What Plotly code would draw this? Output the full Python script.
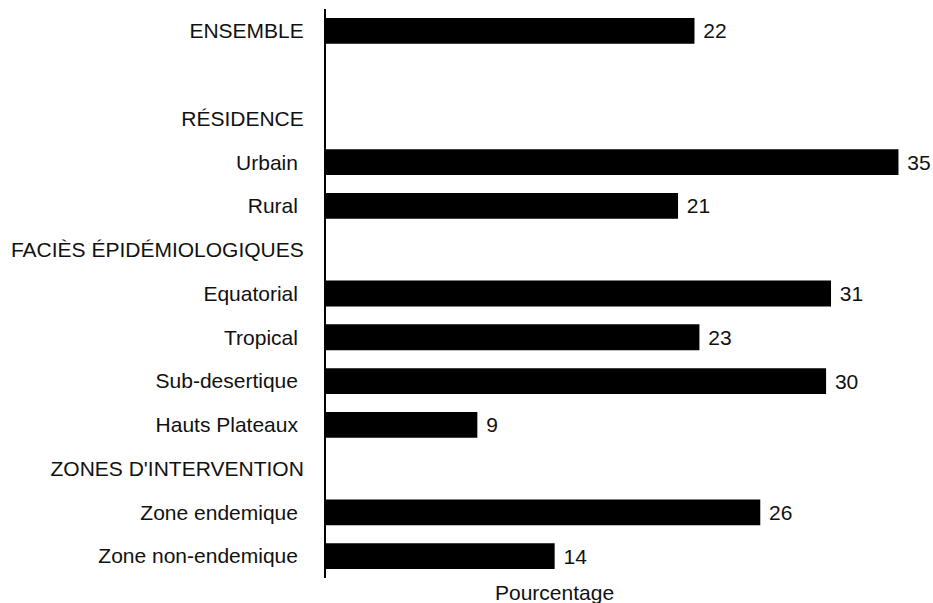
import plotly.graph_objects as go

# Row labels (top to bottom); headers have no bar, "\u200b" is an empty spacer row
categories = [
    "ENSEMBLE",
    "\u200b",
    "RÉSIDENCE",
    "Urbain\u00a0",
    "Rural\u00a0",
    "FACIÈS ÉPIDÉMIOLOGIQUES",
    "Equatorial\u00a0",
    "Tropical\u00a0",
    "Sub-desertique\u00a0",
    "Hauts Plateaux\u00a0",
    "ZONES D'INTERVENTION",
    "Zone endemique\u00a0",
    "Zone non-endemique\u00a0",
]
values = [22.4, None, None, 34.8, 21.4, None, 30.7, 22.7, 30.4, 9.2, None, 26.4, 13.9]
x_title = "Pourcentage"

W, H = 933, 603
ml, mr, mt, mb = 326, 0, 9, 603 - 578
px_per_unit = 16.45
xmax = (W - ml - mr) / px_per_unit
FONT = "Liberation Sans, Arial, sans-serif"
FS = 21

fig = go.Figure(
    go.Bar(
        x=values,
        y=categories,
        orientation="h",
        marker=dict(color="black", line=dict(width=0)),
        text=[None if v is None else " %d" % round(v) for v in values],
        textposition="outside",
        textfont=dict(family=FONT, size=FS, color="#111111"),
        cliponaxis=False,
        hoverinfo="skip",
    )
)

fig.update_layout(
    width=W,
    height=H,
    margin=dict(l=ml, r=mr, t=mt, b=mb, pad=0),
    paper_bgcolor="white",
    plot_bgcolor="white",
    bargap=0.41,
    showlegend=False,
    font=dict(family=FONT, size=FS, color="#111111"),
)

fig.update_xaxes(
    range=[0, xmax],
    showgrid=False,
    zeroline=False,
    showticklabels=False,
    showline=False,
    ticks="",
)
fig.update_yaxes(
    type="category",
    categoryorder="array",
    categoryarray=categories,
    autorange="reversed",
    showgrid=False,
    zeroline=False,
    showline=True,
    linecolor="black",
    linewidth=2,
    ticks="",
    ticklabelstandoff=16,
    tickfont=dict(family=FONT, size=FS, color="#111111"),
)

plot_h = H - mt - mb
fig.add_annotation(
    text=x_title,
    xref="paper",
    yref="paper",
    x=(554 - ml) / (W - ml - mr),
    y=-(592 - 578) / plot_h,
    xanchor="center",
    yanchor="middle",
    showarrow=False,
    font=dict(family=FONT, size=FS, color="#111111"),
)

fig.write_html(
    "out.html",
    config={"displayModeBar": False, "staticPlot": True},
    post_script="document.body.style.margin='0';document.body.style.overflow='hidden';",
)
